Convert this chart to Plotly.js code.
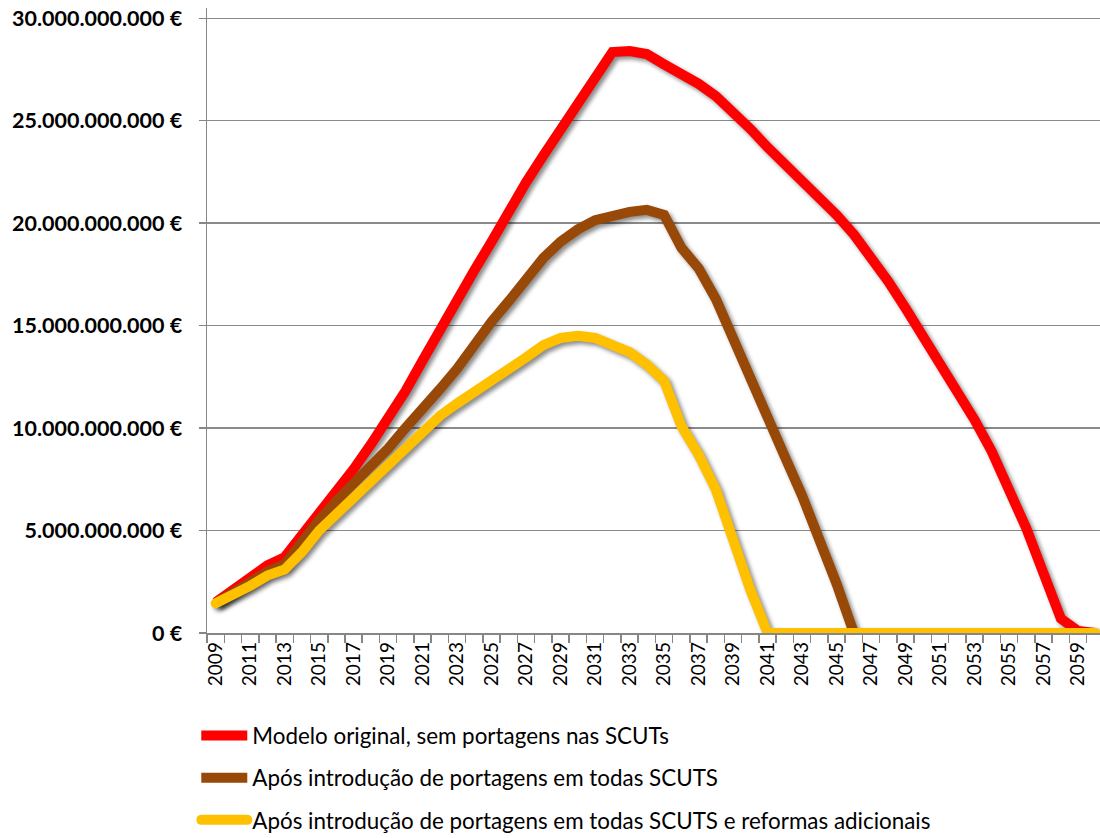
<!DOCTYPE html>
<html><head><meta charset="utf-8">
<script src="https://cdn.plot.ly/plotly-3.0.1.min.js"></script>
<style>
body{margin:0;background:#fff;}
#chart{width:1100px;height:838px;}
.scatterlayer .trace path.js-line{filter:drop-shadow(3px 3px 2px rgba(0,0,0,0.45));}
.scatterlayer .trace:nth-child(3) path.js-line{stroke-linecap:round;}
</style></head><body><div id="chart"></div><script>
var years = [2009,2010,2011,2012,2013,2014,2015,2016,2017,2018,2019,2020,2021,2022,2023,2024,2025,2026,2027,2028,2029,2030,2031,2032,2033,2034,2035,2036,2037,2038,2039,2040,2041,2042,2043,2044,2045,2046,2047,2048,2049,2050,2051,2052,2053,2054,2055,2056,2057,2058,2059,2060];
// values in thousand-million euros
var original = [1.5,2.1,2.75,3.3,3.7,4.75,5.8,6.9,8.0,9.2,10.45,11.8,13.3,14.85,16.3,17.7,19.1,20.6,22.0,23.3,24.6,25.9,27.1,28.35,28.4,28.25,27.75,27.3,26.8,26.2,25.45,24.6,23.7,22.9,22.1,21.25,20.4,19.45,18.35,17.15,15.85,14.5,13.2,11.85,10.4,8.85,7.1,5.1,2.9,0.7,0.1,0];
var portagens = [1.45,1.95,2.5,3.0,3.35,4.5,5.5,6.45,7.3,8.1,9.0,10.0,10.9,11.9,12.9,14.1,15.2,16.2,17.35,18.3,19.1,19.7,20.15,20.4,20.55,20.65,20.4,18.8,17.8,16.3,14.3,12.4,10.5,8.6,6.7,4.7,2.4,0,0,0,0,0,0,0,0,0,0,0,0,0,0,0];
var reformas = [1.45,1.85,2.3,2.8,3.1,3.95,5.0,5.8,6.6,7.4,8.2,9.0,9.85,10.6,11.2,11.75,12.25,12.85,13.45,14.05,14.4,14.5,14.4,14.05,13.7,13.1,12.3,10.1,8.7,7.0,4.4,2.1,0,0,0,0,0,0,0,0,0,0,0,0,0,0,0,0,0,0,0,0];
var seriesNames = ['Modelo original, sem portagens nas SCUTs','Após introdução de portagens em todas SCUTS','Após introdução de portagens em todas SCUTS e reformas adicionais'];
var seriesColors = ['#FF0000','#984807','#FFC000'];
var yTickVals = [0,5,10,15,20,25,30];
var yTickText = ['0 €','5.000.000.000 €','10.000.000.000 €','15.000.000.000 €','20.000.000.000 €','25.000.000.000 €','30.000.000.000 €'];
var xTickVals = years.filter(function(y,i){return i%2===0;});
var xTickText = xTickVals.map(String);
var boundaries = years.map(function(y){return y-0.5;}).concat([years[years.length-1]+0.5]);

var data = [original, portagens, reformas].map(function(v,i){
  return {x: years, y: v, type:'scatter', mode:'lines', name: seriesNames[i],
    line:{color: seriesColors[i], width:10}, cliponaxis:false,
    legendgroup:'g'+i, hoverinfo:'skip'};
});
var font = 'Lato, "Open Sans", sans-serif';
var layout = {
  width:1100, height:838,
  margin:{l:207, r:0, t:8, b:205, autoexpand:false},
  paper_bgcolor:'#fff', plot_bgcolor:'#fff',
  showlegend:true,
  font:{family:font, color:'#000'},
  xaxis:{type:'linear', range:[2008.5, 2060.27], tickmode:'array', tickvals:xTickVals, ticktext:xTickText,
    tickangle:-90, ticks:'', showgrid:false, zeroline:false, showline:true, linecolor:'#868686', linewidth:1.5,
    tickfont:{family:font, size:19, color:'#000'},
    minor:{tickmode:'array', tickvals:boundaries, ticks:'outside', ticklen:8, tickwidth:1.5, tickcolor:'#868686', showgrid:false}},
  yaxis:{range:[0,30.5], tickmode:'array', tickvals:yTickVals, ticktext:yTickText,
    ticks:'outside', ticklen:7, tickwidth:1.5, tickcolor:'#868686', showline:true, linecolor:'#868686', linewidth:1.5,
    showgrid:true, gridcolor:'#8a8a8a', gridwidth:1.5, zeroline:false, ticklabelstandoff:12,
    tickfont:{family:font, size:21.5, color:'#000', weight:'bold'}},
  legend:{orientation:'v', x:-0.012, xanchor:'left', y:-0.1305, yanchor:'top', tracegroupgap:10, itemwidth:46,
    font:{family:font, size:22.4, color:'#000'}, bgcolor:'rgba(0,0,0,0)'}
};
Plotly.newPlot('chart', data, layout, {displayModeBar:false, staticPlot:true}).then(function(){
  var tr = document.querySelectorAll('.legend .traces');
  tr.forEach(function(t,i){
    var p = t.querySelector('path.js-line');
    if(p){ p.setAttribute('d','M5,0h46'); p.style.strokeWidth='10px'; if(i===2) p.style.strokeLinecap='round'; }
  });
});
</script></body></html>
